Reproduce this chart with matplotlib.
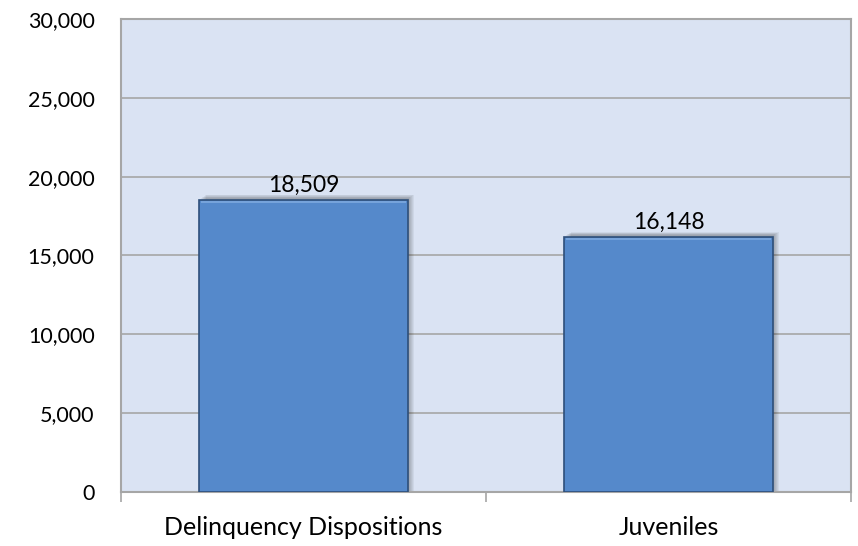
import matplotlib
matplotlib.use("Agg")
import matplotlib.pyplot as plt
from matplotlib.patches import Rectangle

categories = ["Delinquency Dispositions", "Juveniles"]
values = [18509, 16148]
yticks = [0, 5000, 10000, 15000, 20000, 25000, 30000]

plt.rcParams['font.family'] = ['Lato', 'DejaVu Sans']

fig = plt.figure(figsize=(8.58, 5.46), dpi=100)
ax = fig.add_axes([121/858, 1-492/546, (851-121)/858, (492-19)/546])
ax.set_facecolor('#DAE3F3')

x = list(range(len(categories)))
width = 0.57

# soft shadow
for i, v in zip(x, values):
    for k in range(6):
        off = 0.004 + k * 0.003
        ax.add_patch(Rectangle((i - width/2 + off, 0), width, v + 150 + k*40,
                               facecolor='black', alpha=0.05, edgecolor='none', zorder=2))

bars = ax.bar(x, values, width=width, color='#5589CB', edgecolor='#2E4F7A',
              linewidth=1.2, zorder=3)
for b in bars:
    ax.add_patch(Rectangle((b.get_x() + 0.003, b.get_height() - 160), b.get_width() - 0.006, 120,
                           facecolor='#76A3DB', edgecolor='none', zorder=4))

for i, v in zip(x, values):
    ax.annotate(f"{v:,}", (i, v), xytext=(0, 3), textcoords='offset points',
                ha='center', va='bottom', fontsize=16.5, color='black', zorder=5)

ax.set_xlim(-0.5, len(categories) - 0.5)
ax.set_ylim(0, 30000)
ax.set_yticks(yticks)
ax.set_yticklabels([f"{t:,}" for t in yticks], fontsize=15.5)
ax.yaxis.grid(True, color='#A6A6A6', linewidth=1.2, zorder=1)
ax.set_axisbelow(True)
ax.tick_params(axis='y', length=0, pad=19)

ax.set_xticks([-0.5, 0.5, 1.5], minor=False)
ax.set_xticklabels(['', '', ''])
ax.set_xticks(x, minor=True)
ax.set_xticklabels(categories, minor=True, fontsize=18)
ax.tick_params(axis='x', which='major', length=7, color='#A6A6A6', width=1.2)
ax.tick_params(axis='x', which='minor', length=0, pad=17)

for s in ax.spines.values():
    s.set_color('#A6A6A6')
    s.set_linewidth(1.5)

fig.savefig("out.png", dpi=100)
